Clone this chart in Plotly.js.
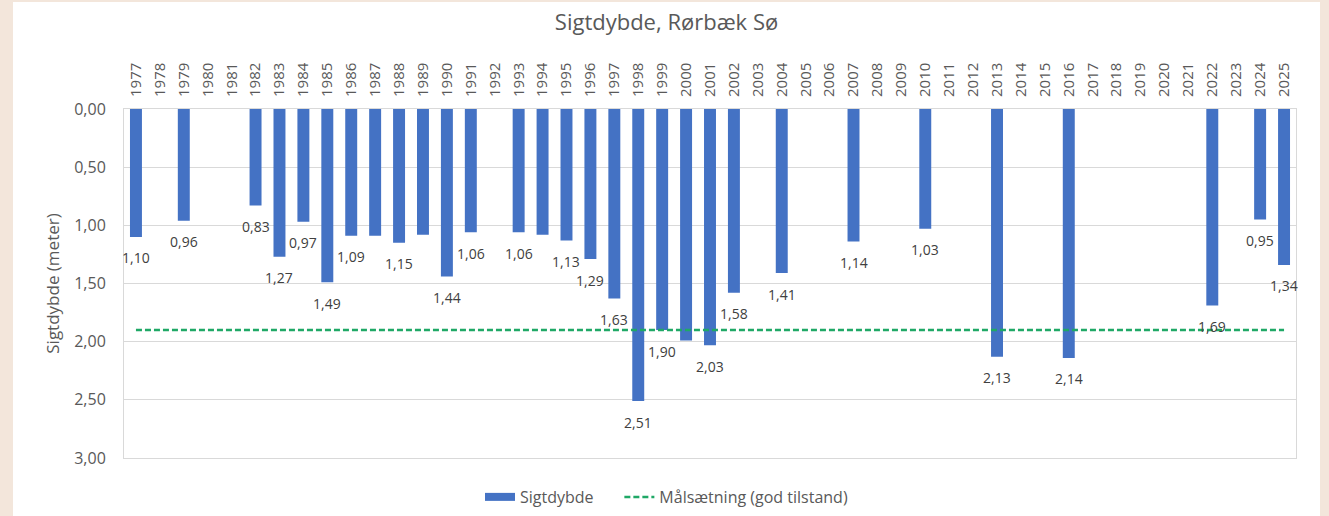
<!DOCTYPE html>
<html>
<head>
<meta charset="utf-8">
<script src="https://cdn.plot.ly/plotly-3.0.1.min.js"></script>
<style>
  html, body { margin: 0; padding: 0; background: #f3e6db; width: 1329px; height: 516px; overflow: hidden; }
  #chart { position: absolute; left: 13px; top: 2px; width: 1307px; height: 514px; background: #ffffff; }
</style>
</head>
<body>
<div id="chart"></div>
<script>
const years = ['1977','1978','1979','1980','1981','1982','1983','1984','1985','1986',
  '1987','1988','1989','1990','1991','1992','1993','1994','1995','1996',
  '1997','1998','1999','2000','2001','2002','2003','2004','2005','2006',
  '2007','2008','2009','2010','2011','2012','2013','2014','2015','2016',
  '2017','2018','2019','2020','2021','2022','2023','2024','2025'];

const sigtdybde = [1.10, null, 0.96, null, null, 0.83, 1.27, 0.97, 1.49, 1.09,
  1.09, 1.15, 1.08, 1.44, 1.06, null, 1.06, 1.08, 1.13, 1.29,
  1.63, 2.51, 1.90, 1.99, 2.03, 1.58, null, 1.41, null, null,
  1.14, null, null, 1.03, null, null, 2.13, null, null, 2.14,
  null, null, null, null, null, 1.69, null, 0.95, 1.34];

// years whose data label is not shown in the original
const hiddenLabels = ['1987', '1989', '1994', '2000'];

const targetYears = ['1977', '2025'];
const targetValues = [1.90, 1.90];

const yTicks = [0, 0.5, 1, 1.5, 2, 2.5, 3];

const font = 'Open Sans, Noto Sans, sans-serif';
const grey = '#595959';
const barColor = '#4472c4';

const annotations = [];
sigtdybde.forEach((v, i) => {
  if (v == null || hiddenLabels.includes(years[i])) return;
  annotations.push({
    x: i, y: v, xref: 'x', yref: 'y',   // x = category index of years[i]
    text: v.toFixed(2).replace('.', ','),
    showarrow: false,
    xanchor: 'center', yanchor: 'middle',
    yshift: -21,
    font: { family: font, size: 14, color: '#404040' }
  });
});

const traces = [
  {
    type: 'bar',
    name: 'Sigtdybde',
    x: years,
    y: sigtdybde,
    marker: { color: barColor },
    showlegend: false,
    hoverinfo: 'skip'
  },
  {
    // legend entry for the bars (wide rectangle symbol as in the original)
    type: 'scatter',
    mode: 'lines',
    name: 'Sigtdybde\u00a0\u00a0\u00a0\u00a0\u00a0',
    x: [years[0], years[0]],
    y: [null, null],
    line: { color: barColor, width: 8 },
    hoverinfo: 'skip'
  },
  {
    type: 'scatter',
    mode: 'lines',
    name: 'Målsætning (god tilstand)',
    x: targetYears,
    y: targetValues,
    line: { color: '#1fa866', width: 2.5, dash: '6px,3px' },
    hoverinfo: 'skip'
  }
];

const layout = {
  width: 1307,
  height: 514,
  paper_bgcolor: '#ffffff',
  plot_bgcolor: '#ffffff',
  margin: { l: 111, r: 24, t: 107, b: 58 },
  separators: ',.',
  bargap: 0.5,
  showlegend: true,
  font: { family: font, color: grey },
  annotations: annotations,
  title: {
    text: 'Sigtdybde, Rørbæk Sø',
    font: { family: font, size: 22, color: grey },
    x: 0.5, xref: 'container', xanchor: 'center',
    y: 0.96, yref: 'container', yanchor: 'middle'
  },
  xaxis: {
    type: 'category',
    categoryorder: 'array',
    categoryarray: years,
    range: [-0.5, years.length - 0.5],
    side: 'top',
    tickangle: -90,
    tickfont: { family: font, size: 15, color: grey },
    ticks: '',
    ticklabelstandoff: 8,
    showgrid: false,
    showline: true,
    mirror: true,
    linecolor: '#d9d9d9',
    linewidth: 1,
    zeroline: false,
    fixedrange: true
  },
  yaxis: {
    range: [3, 0],
    tickvals: yTicks,
    tickformat: '.2f',
    tickfont: { family: font, size: 16, color: grey },
    ticks: '',
    ticklabelstandoff: 14,
    showgrid: true,
    gridcolor: '#d9d9d9',
    gridwidth: 1,
    showline: true,
    mirror: true,
    linecolor: '#d9d9d9',
    linewidth: 1,
    zeroline: false,
    title: {
      text: 'Sigtdybde (meter)',
      font: { family: font, size: 17, color: grey },
      standoff: 10
    },
    fixedrange: true
  },
  legend: {
    orientation: 'h',
    x: 0.5, xanchor: 'center', xref: 'container',
    y: 0.037, yanchor: 'middle', yref: 'container',
    font: { family: font, size: 16, color: grey }
  }
};

Plotly.newPlot('chart', traces, layout, { staticPlot: true, displayModeBar: false });
</script>
</body>
</html>
